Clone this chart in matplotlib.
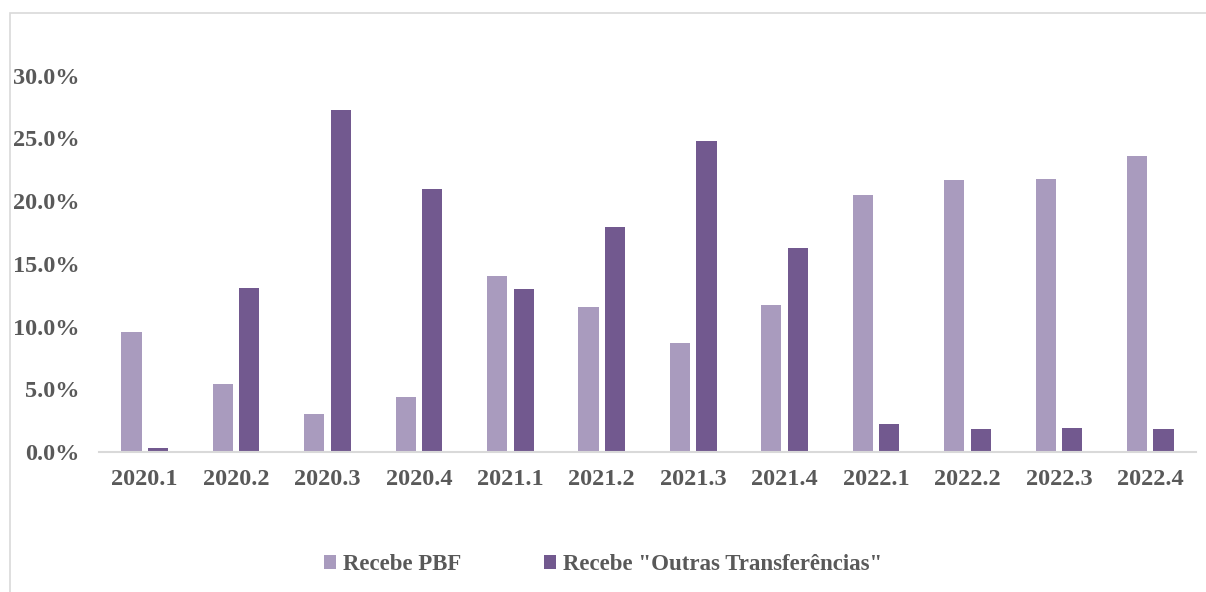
import numpy as np
import matplotlib
matplotlib.use("Agg")
from matplotlib import pyplot as plt
from matplotlib.patches import Rectangle
from matplotlib.ticker import PercentFormatter

periods = ["2020.1", "2020.2", "2020.3", "2020.4", "2021.1", "2021.2",
           "2021.3", "2021.4", "2022.1", "2022.2", "2022.3", "2022.4"]
pbf = [9.6, 5.4, 3.0, 4.4, 14.0, 11.6, 8.7, 11.7, 20.5, 21.7, 21.8, 23.6]
outras = [0.3, 13.1, 27.3, 21.0, 13.0, 17.9, 24.8, 16.3, 2.2, 1.8, 1.95, 1.85]

c_light = "#A99BBE"
c_dark = "#72598F"
txt = "#595959"

plt.rcParams['font.family'] = ['Liberation Serif', 'DejaVu Serif']
plt.rcParams['font.weight'] = 'bold'

fig = plt.figure(figsize=(12.06, 5.92), dpi=100)
ax = fig.add_axes([99 / 1206, 1 - 452 / 592, (1196 - 99) / 1206, (452 - 13) / 592])

x = np.arange(len(periods))
w = 0.22
ax.bar(x - 0.145, pbf, w, color=c_light, label="Recebe PBF")
ax.bar(x + 0.145, outras, w, color=c_dark, label='Recebe "Outras Transferências"')

ax.set_xlim(-0.5, len(periods) - 0.5)
ax.set_ylim(0, 35)
ax.set_yticks(np.arange(0, 31, 5))
ax.yaxis.set_major_formatter(PercentFormatter(decimals=1))
ax.set_xticks(x)
ax.set_xticklabels(periods)
ax.tick_params(axis='y', length=0, pad=14, labelsize=17.5, labelcolor=txt)
ax.tick_params(axis='x', length=0, pad=12, labelsize=17.5, labelcolor=txt)
for s in ["top", "right", "left"]:
    ax.spines[s].set_visible(False)
ax.spines["bottom"].set_color("#D9D9D9")
ax.spines["bottom"].set_linewidth(1.5)

leg = fig.legend(loc="center", bbox_to_anchor=(0.5, 1 - 565 / 592), ncol=2,
                 frameon=False, fontsize=16.5, handlelength=0.55, handleheight=0.55,
                 handletextpad=0.3, columnspacing=3.6)
for t in leg.get_texts():
    t.set_color(txt)

fig.patches.append(Rectangle((10 / 1206, -0.01), 1.02, 1 - 13 / 592 + 0.01,
                             transform=fig.transFigure, fill=False,
                             edgecolor="#D9D9D9", linewidth=1.2))

fig.savefig("out.png", dpi=100)
